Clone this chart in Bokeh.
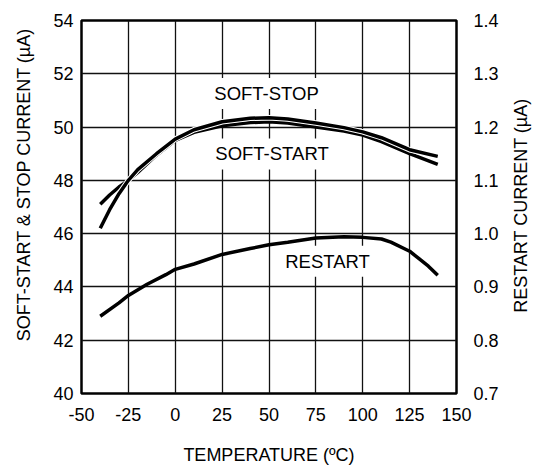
import math
from bokeh.plotting import figure
from bokeh.models import Range1d, LinearAxis, FixedTicker, CustomJSTickFormatter, Label
from bokeh.core.properties import value
from bokeh.embed import file_html
from bokeh.resources import INLINE

# ---- data ----
temp_ss = [-40, -35, -30, -25, -20, -10, 0, 10, 25, 40, 50, 60, 75, 90, 100, 110, 125, 140]
soft_stop = [46.2, 46.9, 47.5, 48.0, 48.4, 49.0, 49.55, 49.9, 50.2, 50.33, 50.35, 50.3, 50.15, 49.98, 49.82, 49.6, 49.15, 48.9]
soft_start = [47.1, 47.45, 47.75, 48.0, 48.3, 48.95, 49.5, 49.8, 50.05, 50.17, 50.2, 50.15, 50.0, 49.85, 49.7, 49.45, 49.0, 48.6]

temp_rs = [-40, -30, -25, -15, -5, 0, 10, 25, 40, 50, 60, 75, 90, 100, 110, 115, 125, 130, 135, 140]
restart = [0.845, 0.870, 0.884, 0.905, 0.923, 0.933, 0.943, 0.961, 0.972, 0.979, 0.984, 0.992, 0.994, 0.993, 0.99, 0.984, 0.967, 0.953, 0.939, 0.922]

x_ticks = [-50, -25, 0, 25, 50, 75, 100, 125, 150]
left_ticks = [40, 42, 44, 46, 48, 50, 52, 54]
right_ticks = [0.7, 0.8, 0.9, 1.0, 1.1, 1.2, 1.3, 1.4]

FONT = "Liberation Sans"
FS = "18px"

p = figure(width=533, height=467, output_backend="svg", toolbar_location=None,
           x_range=Range1d(-50, 150), y_range=Range1d(40, 54),
           min_border_left=81, min_border_right=77, min_border_top=20, min_border_bottom=72)
p.extra_y_ranges = {"r": Range1d(0.7, 1.4)}
p.background_fill_color = "white"
p.border_fill_color = "white"
p.outline_line_color = "black"
p.outline_line_width = 2.5

# grids
p.xgrid.ticker = FixedTicker(ticks=x_ticks)
p.ygrid.ticker = FixedTicker(ticks=left_ticks)
for g in (p.xgrid, p.ygrid):
    g.grid_line_color = "#111111"
    g.grid_line_width = 1.3

def style_axis(ax, ticks, standoff, label, label_standoff):
    ax.ticker = FixedTicker(ticks=ticks)
    ax.axis_line_color = None
    ax.major_tick_line_color = None
    ax.minor_tick_line_color = None
    ax.major_tick_out = 0
    ax.major_tick_in = 0
    ax.minor_tick_out = 0
    ax.minor_tick_in = 0
    ax.major_label_text_font = FONT
    ax.major_label_text_font_size = FS
    ax.major_label_text_color = "black"
    ax.major_label_standoff = standoff
    ax.axis_label = label
    ax.axis_label_text_font = FONT
    ax.axis_label_text_font_size = FS
    ax.axis_label_text_font_style = "normal"
    ax.axis_label_text_color = "black"
    ax.axis_label_standoff = label_standoff

style_axis(p.xaxis[0], x_ticks, 14, "TEMPERATURE (\u00baC)", 21)
p.xaxis[0].formatter = CustomJSTickFormatter(code="return tick.toString();")
# leading no-break spaces shift the visible title upward, as in the reference
style_axis(p.yaxis[0], left_ticks, 8, "\u00a0" * 9 + "SOFT-START & STOP CURRENT (\u00b5A)", 16)

raxis = LinearAxis(y_range_name="r")
style_axis(raxis, right_ticks, 17, None, 0)
raxis.formatter = CustomJSTickFormatter(code="return tick.toFixed(1);")
p.add_layout(raxis, "right")

# right-hand title, reading bottom to top, placed in the right side panel
p.add_layout(Label(x=19, y=188, x_units="screen", y_units="screen", angle=math.pi / 2,
                   text="RESTART CURRENT (\u00b5A)", text_font=FONT, text_font_size=FS,
                   text_color="black", text_align="center", text_baseline="middle"), "right")

# curve labels with white boxes (drawn before the lines)
lab_kw = dict(text_font=value(FONT), text_font_size=value("18.5px"), text_color="black",
              text_align="center", text_baseline="middle",
              background_fill_color="white", padding=5)
p.text(x=[48.7], y=[51.26], text=["SOFT-STOP"], **lab_kw)
p.text(x=[51.6], y=[48.99], text=["SOFT-START"], **lab_kw)
p.text(x=[81.2], y=[0.948], text=["RESTART"], y_range_name="r", **lab_kw)

# curves
p.line(temp_ss, soft_start, line_color="black", line_width=3.5)
p.line(temp_ss, soft_stop, line_color="white", line_width=5.5)
p.line(temp_ss, soft_stop, line_color="black", line_width=3.5)
p.line(temp_rs, restart, line_color="black", line_width=3.5, y_range_name="r")

open("out.html", "w").write(file_html(p, INLINE))
